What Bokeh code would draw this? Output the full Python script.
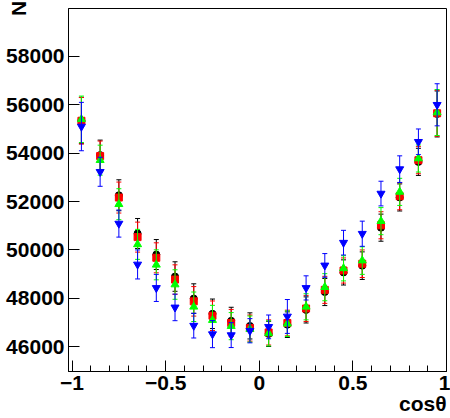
from bokeh.plotting import figure
from bokeh.models import ColumnDataSource, FixedTicker, Title
from bokeh.embed import file_html
from bokeh.resources import INLINE

# ---- data ----
x_centers = [-0.95, -0.85, -0.75, -0.65, -0.55, -0.45, -0.35, -0.25, -0.15, -0.05,
             0.05, 0.15, 0.25, 0.35, 0.45, 0.55, 0.65, 0.75, 0.85, 0.95]

n_black = [55350, 53920, 52260, 50680, 49810, 48900, 47990, 47360, 47070, 46860,
           46530, 46910, 47520, 48260, 49070, 49350, 50920, 52170, 53640, 55620]
n_red = [55340, 53880, 52165, 50530, 49675, 48775, 47875, 47280, 46980, 46770,
         46590, 46980, 47580, 48350, 49150, 49430, 51020, 52220, 53710, 55650]
n_green = [55400, 53710, 51890, 50230, 49385, 48570, 47650, 47100, 46850, 46730,
           46550, 46950, 47650, 48460, 49240, 49560, 51190, 52400, 53780, 55680]
n_blue = [55100, 53230, 51090, 49400, 48430, 47625, 46870, 46520, 46480, 46660,
          46820, 47250, 48430, 49360, 50300, 50670, 52330, 53340, 54470, 56000]

err_main = [960, 620, 640, 620, 620, 610, 610, 610, 560, 540,
            520, 530, 540, 560, 520, 570, 560, 560, 560, 950]
err_blue = [1000, 600, 560, 600, 560, 550, 510, 560, 515, 500,
            490, 700, 500, 490, 510, 520, 510, 550, 530, 870]

y_ticks = [46000, 48000, 50000, 52000, 54000, 56000, 58000]
y_tick_labels = ["46000", "48000", "50000", "52000", "54000", "56000", "58000"]
x_ticks = [-1, -0.5, 0, 0.5, 1]
x_tick_labels = ["\u22121", "\u22120.5", "0", "0.5", "1"]
x_minor = [-1 + 0.1 * i for i in range(21)]

y_title = "N"
x_title = "cos\u03b8"

series = [
    ("circle", n_black, err_main, "#000000", 7),
    ("square", n_red, err_main, "#ff0000", 7),
    ("triangle", n_green, err_main, "#00ff00", 8),
    ("inverted_triangle", n_blue, err_blue, "#0000ff", 8),
]

FONT = "Liberation Sans"

p = figure(width=450, height=418, output_backend="svg", toolbar_location=None,
           x_range=(-1.019, 1.0), y_range=(44975, 59980),
           min_border_left=68, min_border_right=4, min_border_top=8, min_border_bottom=47)
p.background_fill_color = "white"
p.border_fill_color = "white"
p.outline_line_color = "black"
p.outline_line_width = 1
p.xgrid.visible = False
p.ygrid.visible = False

for marker, vals, errs, color, size in series:
    src = ColumnDataSource(dict(
        x=x_centers, y=vals,
        lo=[v - e for v, e in zip(vals, errs)],
        hi=[v + e for v, e in zip(vals, errs)],
    ))
    p.segment(x0="x", x1="x", y0="lo", y1="hi", source=src, line_color=color, line_width=1)
    p.scatter(x="x", y="lo", source=src, marker="dash", size=5, line_color=color, line_width=1)
    p.scatter(x="x", y="hi", source=src, marker="dash", size=5, line_color=color, line_width=1)
    p.scatter(x="x", y="y", source=src, marker=marker, size=size,
              fill_color=color, line_color=color)

# axes styling
for ax in (p.xaxis[0], p.yaxis[0]):
    ax.axis_line_color = "black"
    ax.axis_line_width = 1
    ax.major_tick_out = 0
    ax.major_tick_in = 11
    ax.minor_tick_out = 0
    ax.minor_tick_in = 6
    ax.major_tick_line_color = "black"
    ax.minor_tick_line_color = "black"
    ax.major_label_text_font = FONT
    ax.major_label_text_font_style = "bold"
    ax.major_label_text_font_size = "21px"
    ax.major_label_text_color = "black"

p.xaxis.ticker = FixedTicker(ticks=x_ticks, minor_ticks=x_minor)
p.xaxis.major_label_overrides = {t: l for t, l in zip(x_ticks, x_tick_labels)}
p.xaxis.major_label_standoff = 4

p.yaxis.ticker = FixedTicker(ticks=y_ticks, minor_ticks=[])
p.yaxis.major_label_overrides = {t: l for t, l in zip(y_ticks, y_tick_labels)}
p.yaxis.major_label_standoff = 4
p.yaxis.axis_label = y_title
p.yaxis.axis_label_text_font = FONT
p.yaxis.axis_label_text_font_style = "bold"
p.yaxis.axis_label_text_font_size = "21px"
p.yaxis.axis_label_text_color = "black"
p.yaxis.axis_label_align = "end"
p.yaxis.axis_label_standoff = -27

# x-axis title, right-aligned below the axis (ROOT style)
p.add_layout(Title(text=x_title, align="right", text_font=FONT, text_font_style="bold",
                   text_font_size="21px", text_color="black", standoff=-5), "below")

open("out.html", "w").write(file_html(p, INLINE))
